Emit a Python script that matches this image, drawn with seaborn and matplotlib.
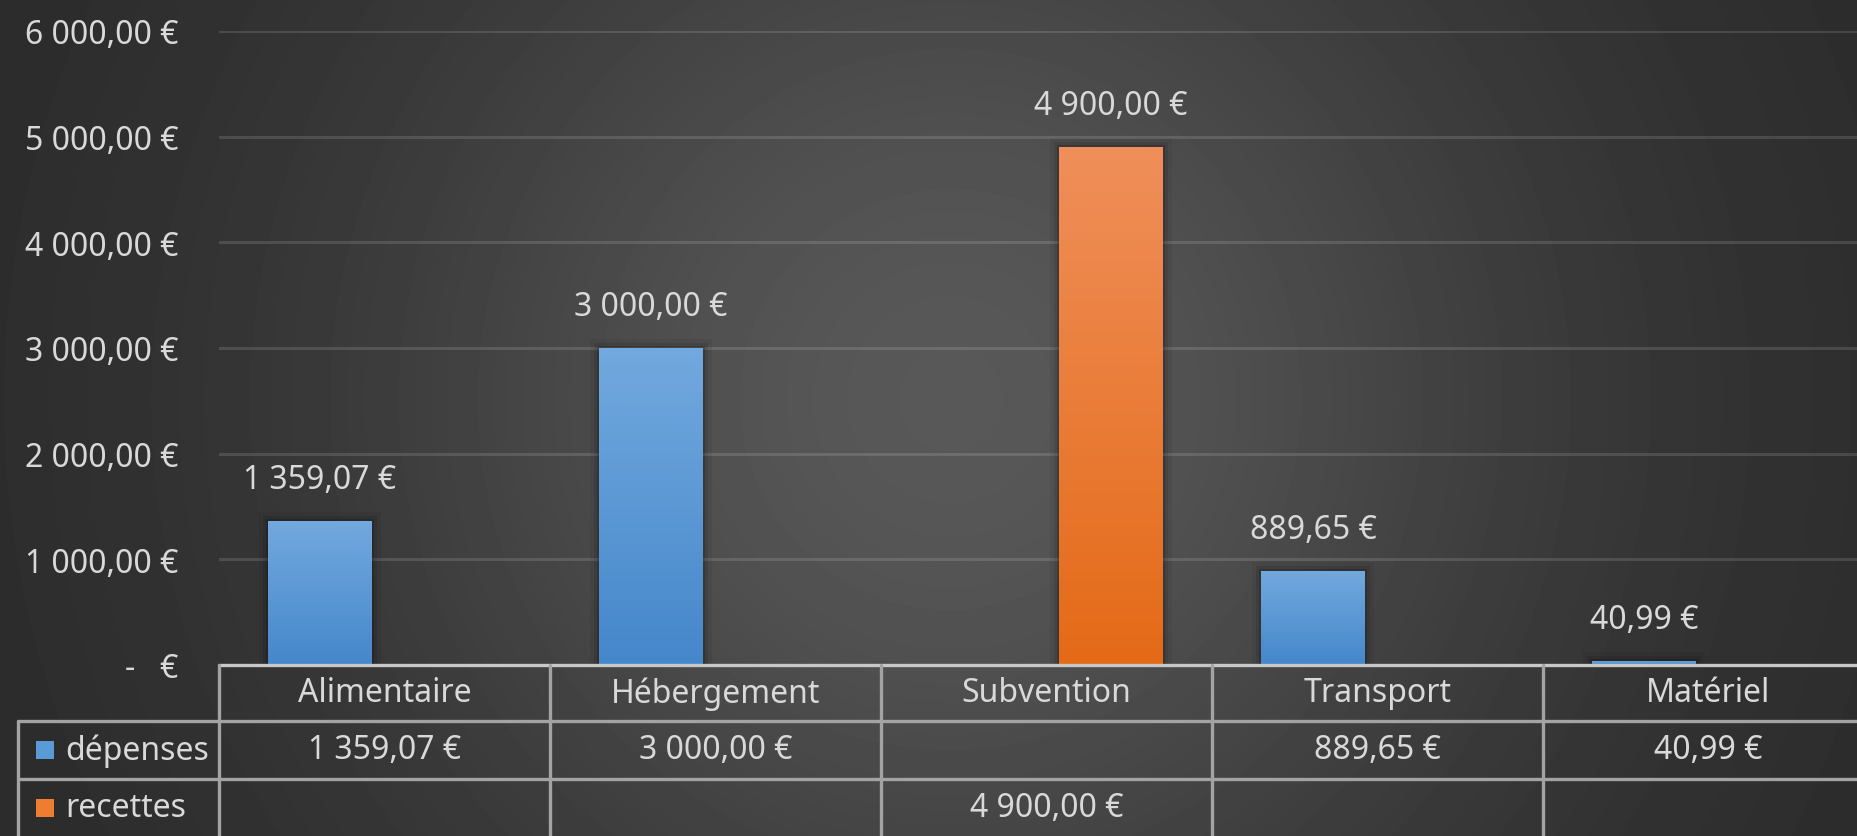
import numpy as np
import pandas as pd
import matplotlib
matplotlib.use("Agg")
import matplotlib.pyplot as plt
from matplotlib.patches import Rectangle
from matplotlib.colors import LinearSegmentedColormap
import seaborn as sns

# chart data
categories = ["Alimentaire", "Hébergement", "Subvention", "Transport", "Matériel"]
depenses = [1359.07, 3000.00, None, 889.65, 40.99]
recettes = [None, None, 4900.00, None, None]
series = ["dépenses", "recettes"]
yticks = [0, 1000, 2000, 3000, 4000, 5000, 6000]


def euro(v):
    # french accounting style: 1 359,07 €
    if v == 0:
        return "-   €"
    s = f"{v:,.2f}"
    return s.replace(",", " ").replace(".", ",") + " €"


rows = []
for name, vals in zip(series, [depenses, recettes]):
    for cat, v in zip(categories, vals):
        if v is not None:
            rows.append({"catégorie": cat, "série": name, "montant": v})
df = pd.DataFrame(rows)

sns.set_theme(style="white")
plt.rcParams["font.family"] = ["Noto Sans", "DejaVu Sans"]
txt = "#d9d9d9"
fs = 23
blue = "#5b9bd5"
orange = "#ed7d31"

W, H = 1857, 837
fig = plt.figure(figsize=(W / 100, H / 100), dpi=100)

# dark radial background
bg = fig.add_axes([0, 0, 1, 1], zorder=-10)
yy, xx = np.mgrid[0:H, 0:W]
g = np.exp(-((xx - 950) / 600) ** 2 - ((yy - 400) / 600) ** 2)
bg.imshow((42 + 46 * g) / 255, cmap="gray", vmin=0, vmax=1,
          extent=[0, 1, 0, 1], aspect="auto")
bg.axis("off")

# plot area (last column runs a little past the right edge)
ax = fig.add_axes([219 / W, 1 - 666 / H, 5 * 331 / W, 634 / H])
ax.patch.set_alpha(0)
sns.barplot(data=df, x="catégorie", y="montant", hue="série", order=categories,
            hue_order=series, palette=[blue, orange], width=0.78, gap=0.2,
            dodge=True, saturation=1, legend=False, linewidth=0,
            edgecolor="none", ax=ax)

blue_cmap = LinearSegmentedColormap.from_list("b", ["#4587cb", "#72a9de"])
orange_cmap = LinearSegmentedColormap.from_list("o", ["#e46a17", "#f08f5a"])
grad = np.linspace(0, 1, 256).reshape(-1, 1)

for p in list(ax.patches):
    x0, w, h = p.get_x(), p.get_width(), p.get_height()
    if not np.isfinite(h) or h <= 0:
        continue
    cmap = orange_cmap if p.get_facecolor()[0] > 0.8 else blue_cmap
    # soft shadow
    for k, a in zip([2, 5, 9], [0.16, 0.09, 0.05]):
        dx = k / 331
        dy = k / 634 * 6000
        ax.add_patch(Rectangle((x0 - dx, 0), w + 2 * dx, h + dy, facecolor="black",
                               alpha=a, lw=0, zorder=1.5))
    im = ax.imshow(grad, cmap=cmap, extent=[x0, x0 + w, 0, h], origin="lower",
                   aspect="auto", zorder=2.5)
    im.set_clip_path(p)
    ax.annotate(euro(h), (x0 + w / 2, h), xytext=(0, 30), textcoords="offset points",
                ha="center", va="center", color=txt, fontsize=fs)

ax.set_xlim(-0.5, 4.5)
ax.set_ylim(0, 6000)
ax.set_yticks(yticks)
ax.set_yticklabels([euro(t) for t in yticks])
ax.set_xticks([])
ax.set_xlabel("")
ax.set_ylabel("")
ax.tick_params(axis="y", length=0, pad=29, labelsize=fs, labelcolor=txt)
ax.set_axisbelow(True)
ax.yaxis.grid(True, color="white", alpha=0.13, lw=2.2)
for s in ax.spines.values():
    s.set_visible(False)

# data table under the chart
tr = ax.get_xaxis_transform()
r1 = -56 / 634
r2 = -114 / 634
rb = -0.4
leg_x = -0.5 - 201 / 331
lk = dict(transform=tr, clip_on=False, color="#a3a3a3", lw=2.4, zorder=5)
ax.plot([-0.5, 4.5], [0, 0], **{**lk, "color": "#c8c8c8"})
for x in np.arange(-0.5, 4.6, 1):
    ax.plot([x, x], [0, rb], **lk)
ax.plot([leg_x, leg_x], [r1, rb], **lk)
for y in (r1, r2):
    ax.plot([leg_x, 4.5], [y, y], **lk)

tk = dict(transform=tr, ha="center", va="center", color=txt, fontsize=fs, clip_on=False)
row_y = [(r1 + r2) / 2, r2 - 29 / 634]
for i, cat in enumerate(categories):
    ax.text(i, r1 / 2, cat, **tk)
    for vals, y in zip([depenses, recettes], row_y):
        if vals[i] is not None:
            ax.text(i, y, euro(vals[i]), **tk)

for name, col, y in zip(series, [blue, orange], row_y):
    ax.plot([-0.5 - 174 / 331], [y], marker="s", ms=12.5, color=col, mew=0,
            transform=tr, clip_on=False)
    ax.text(-0.5 - 154 / 331, y, name, transform=tr, ha="left", va="center",
            color=txt, fontsize=fs, clip_on=False)

fig.savefig("out.png", dpi=100)
